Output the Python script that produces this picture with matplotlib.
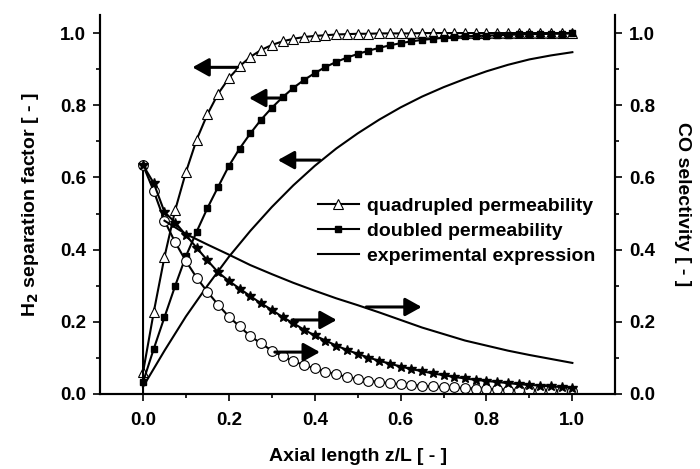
import matplotlib
matplotlib.use('Agg')
import matplotlib.pyplot as plt
import numpy as np

plt.rcParams['font.family'] = ['Liberation Sans', 'DejaVu Sans']
plt.rcParams['font.weight'] = 'bold'
plt.rcParams['font.size'] = 14

# marker series sampled every 0.025 of z/L
z_mark = np.round(np.arange(0, 41) * 0.025, 3)

h2_quad = [0.06, 0.227, 0.38, 0.51, 0.615, 0.705, 0.775, 0.832, 0.875, 0.908,
           0.934, 0.953, 0.967, 0.977, 0.984, 0.989, 0.992, 0.994, 0.996, 0.997,
           0.998, 0.998, 0.999, 0.999, 0.999, 0.999, 1.0, 1.0, 1.0, 1.0,
           1.0, 1.0, 1.0, 1.0, 1.0, 1.0, 1.0, 1.0, 1.0, 1.0, 1.0]
h2_double = [0.033, 0.125, 0.213, 0.3, 0.382, 0.45, 0.515, 0.574, 0.632, 0.68,
             0.722, 0.76, 0.793, 0.822, 0.848, 0.87, 0.889, 0.906, 0.92, 0.932,
             0.942, 0.951, 0.959, 0.966, 0.972, 0.977, 0.981, 0.984, 0.987, 0.989,
             0.991, 0.992, 0.993, 0.994, 0.995, 0.996, 0.997, 0.997, 0.998, 0.998, 0.999]

# CO selectivity: circles (first point drawn from the origin) and stars
z_circ = [0.0] + list(z_mark)
co_circ = [0.0, 0.634, 0.562, 0.48, 0.42, 0.368, 0.322, 0.283, 0.247, 0.214, 0.187,
           0.16, 0.14, 0.12, 0.104, 0.091, 0.08, 0.071, 0.062, 0.054, 0.047,
           0.041, 0.037, 0.033, 0.03, 0.027, 0.025, 0.023, 0.021, 0.019, 0.018,
           0.016, 0.015, 0.014, 0.013, 0.012, 0.011, 0.011, 0.01, 0.01, 0.009, 0.009]
co_star = [0.634, 0.584, 0.504, 0.475, 0.44, 0.405, 0.37, 0.337, 0.313, 0.292,
           0.271, 0.251, 0.233, 0.213, 0.196, 0.178, 0.162, 0.148, 0.134, 0.122,
           0.111, 0.101, 0.092, 0.084, 0.076, 0.069, 0.063, 0.057, 0.052, 0.047,
           0.043, 0.039, 0.036, 0.033, 0.03, 0.027, 0.025, 0.023, 0.021, 0.019, 0.017]

# experimental expression
z_exp = [0.0, 0.05, 0.1, 0.15, 0.2, 0.25, 0.3, 0.35, 0.4, 0.45, 0.5,
         0.55, 0.6, 0.65, 0.7, 0.75, 0.8, 0.85, 0.9, 0.95, 1.0]
h2_exp = [0.02, 0.12, 0.215, 0.3, 0.38, 0.452, 0.518, 0.578, 0.632, 0.68, 0.722,
          0.76, 0.794, 0.824, 0.85, 0.873, 0.894, 0.912, 0.927, 0.938, 0.947]
z_exp_co = z_exp[1:]
co_exp = [0.48, 0.443, 0.414, 0.386, 0.357, 0.332, 0.308, 0.286, 0.265, 0.246,
          0.226, 0.205, 0.184, 0.166, 0.148, 0.134, 0.12, 0.108, 0.097, 0.086]

# arrows: (tail x, tip x, y) pointing to the axis that the curve belongs to
arrows_left = [(0.22, 0.115, 0.905), (0.323, 0.247, 0.82), (0.412, 0.314, 0.648)]
arrows_right = [(0.52, 0.649, 0.241), (0.347, 0.451, 0.205), (0.307, 0.412, 0.116)]

fig = plt.figure(figsize=(7, 4.69), dpi=100)
ax = fig.add_axes([0.143, 0.160, 0.736, 0.808])
ax2 = ax.twinx()

ax.plot(z_mark, h2_quad, color='k', lw=1.5, marker='^', ms=7.5, mfc='white',
        mec='k', mew=0.8, label='quadrupled permeability')
ax.plot(z_mark, h2_double, color='k', lw=1.5, marker='s', ms=5, mfc='k',
        mec='k', label='doubled permeability')
ax.plot(z_exp, h2_exp, color='k', lw=1.5, label='experimental expression')

ax2.plot(z_circ, co_circ, color='k', lw=1.5, marker='o', ms=7, mfc='white',
         mec='k', mew=0.8, markevery=list(range(1, len(z_circ))))
ax2.plot(z_mark, co_star, color='k', lw=1.5, marker='*', ms=7.5, mfc='k', mec='k')
ax2.plot(z_exp_co, co_exp, color='k', lw=1.5)

arrow_style = dict(arrowstyle='-|>,head_length=0.45,head_width=0.25', lw=2.2,
                   color='k', mutation_scale=22, shrinkA=0, shrinkB=0)
for x0, x1, y in arrows_left:
    ax.annotate('', xy=(x1, y), xytext=(x0, y), arrowprops=arrow_style)
for x0, x1, y in arrows_right:
    ax2.annotate('', xy=(x1, y), xytext=(x0, y), arrowprops=arrow_style)

for a in (ax, ax2):
    a.set_xlim(-0.1, 1.1)
    a.set_ylim(0, 1.05)
    a.set_yticks([0, 0.2, 0.4, 0.6, 0.8, 1.0])
    a.set_yticks(np.arange(0.1, 1.0, 0.2), minor=True)
    a.spines['top'].set_visible(False)
    for s in a.spines.values():
        s.set_linewidth(1.5)
    a.tick_params(which='both', direction='out', width=1.2, labelsize=13.5, pad=5)
    a.tick_params(which='major', length=5)
    a.tick_params(which='minor', length=3)

ax.set_xticks([0, 0.2, 0.4, 0.6, 0.8, 1.0])
ax.set_xticks([0.1, 0.3, 0.5, 0.7, 0.9], minor=True)
ax.tick_params(axis='x', pad=8)
ax.xaxis.set_major_formatter(matplotlib.ticker.FormatStrFormatter('%.1f'))
ax.yaxis.set_major_formatter(matplotlib.ticker.FormatStrFormatter('%.1f'))
ax2.yaxis.set_major_formatter(matplotlib.ticker.FormatStrFormatter('%.1f'))

ax.set_xlabel('Axial length z/L [ - ]', fontsize=14, fontweight='bold', labelpad=14)
ax.set_ylabel('H$_\\mathbf{2}$ separation factor [ - ]', fontsize=14, fontweight='bold', labelpad=14)
ax2.set_ylabel('CO selectivity [ - ]', fontsize=14, fontweight='bold', rotation=270, labelpad=26)

ax.legend(loc='upper left', bbox_to_anchor=(0.423, 0.519), frameon=False,
          handlelength=2.1, handletextpad=0.4, labelspacing=0.38, fontsize=14,
          borderaxespad=0, borderpad=0)

plt.savefig('out.png', dpi=100)
